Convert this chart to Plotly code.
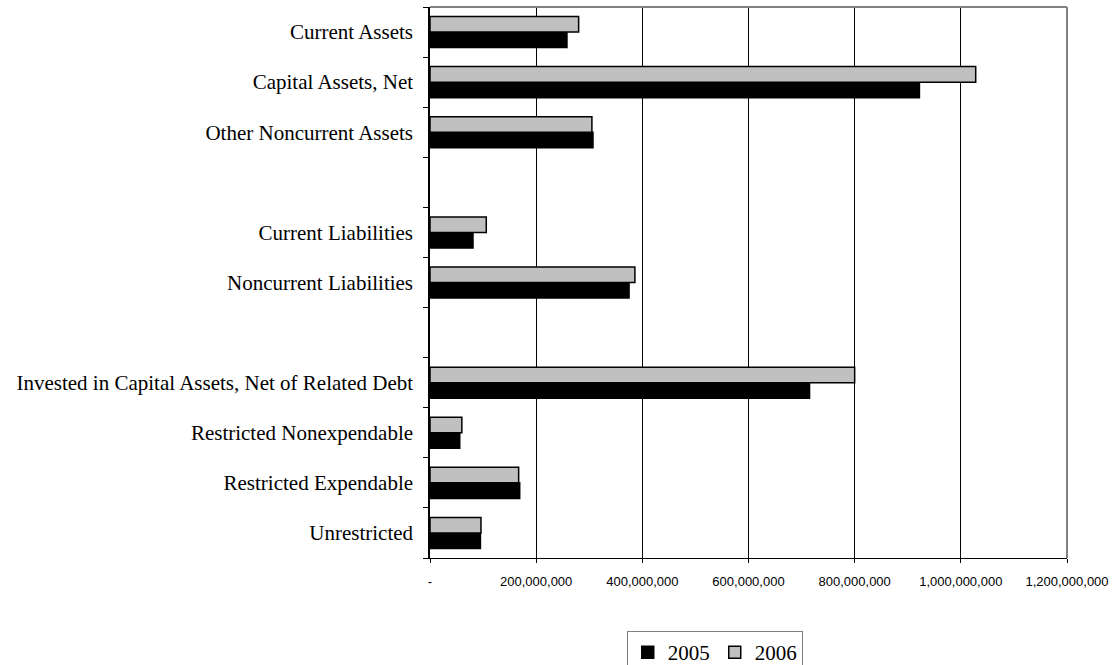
import plotly.graph_objects as go

# Balance sheet categories, listed top to bottom (blank entries separate the groups)
categories = [
    "Current Assets",
    "Capital Assets, Net",
    "Other Noncurrent Assets",
    " ",
    "Current Liabilities",
    "Noncurrent Liabilities",
    "  ",
    "Invested in Capital Assets, Net of Related Debt",
    "Restricted Nonexpendable",
    "Restricted Expendable",
    "Unrestricted",
]

values_2005 = [258e6, 922e6, 307e6, None, 81e6, 375e6, None, 715e6, 56e6, 169e6, 95e6]
values_2006 = [280e6, 1028e6, 305e6, None, 106e6, 386e6, None, 800e6, 60e6, 167e6, 96e6]

x_ticks = [0, 200e6, 400e6, 600e6, 800e6, 1000e6, 1200e6]
x_tick_text = ["-" if v == 0 else f"{int(v):,}" for v in x_ticks]

serif = "Liberation Serif, Times New Roman, serif"
sans = "Liberation Sans, Arial, sans-serif"

fig = go.Figure()
fig.add_trace(go.Bar(
    name="2005", y=categories, x=values_2005, orientation="h",
    marker=dict(color="#000000", line=dict(color="#000000", width=1.5)),
))
fig.add_trace(go.Bar(
    name="2006", y=categories, x=values_2006, orientation="h",
    marker=dict(color="#C0C0C0", line=dict(color="#000000", width=1.5)),
))

fig.update_layout(
    width=1119, height=665,
    margin=dict(l=430, r=52, t=7, b=107, autoexpand=False),
    paper_bgcolor="white", plot_bgcolor="white",
    barmode="group", bargap=0.38, bargroupgap=0,
    showlegend=True,
    legend=dict(
        orientation="h", x=0.447, xanchor="center", y=-0.1325, yanchor="top",
        font=dict(family=serif, size=21, color="#000000"),
        bordercolor="#808080", borderwidth=1,
        itemwidth=30, tracegroupgap=0,
    ),
)

fig.update_xaxes(
    range=[0, 1200e6], tickvals=x_ticks, ticktext=x_tick_text,
    tickfont=dict(family=sans, size=13, color="#000000"),
    showgrid=True, gridcolor="#000000", gridwidth=1,
    ticks="outside", ticklen=4, tickcolor="#000000",
    showline=True, linecolor="#000000", linewidth=1,
    mirror=False, zeroline=False,
    ticklabelstandoff=7,
)
fig.update_yaxes(
    type="category", categoryorder="array", categoryarray=categories[::-1],
    tickfont=dict(family=serif, size=21, color="#000000"),
    tickson="boundaries", ticks="outside", ticklen=5, tickcolor="#000000",
    showgrid=False, showline=True, linecolor="#000000", linewidth=1.5,
    ticklabelstandoff=11,
)

# Gray frame on the top and right edges of the plot area
fig.add_shape(type="line", xref="paper", yref="paper", x0=0, x1=1, y0=1, y1=1,
              line=dict(color="#808080", width=2))
fig.add_shape(type="line", xref="paper", yref="paper", x0=1, x1=1, y0=0, y1=1,
              line=dict(color="#808080", width=2))

fig.write_html("out.html")
